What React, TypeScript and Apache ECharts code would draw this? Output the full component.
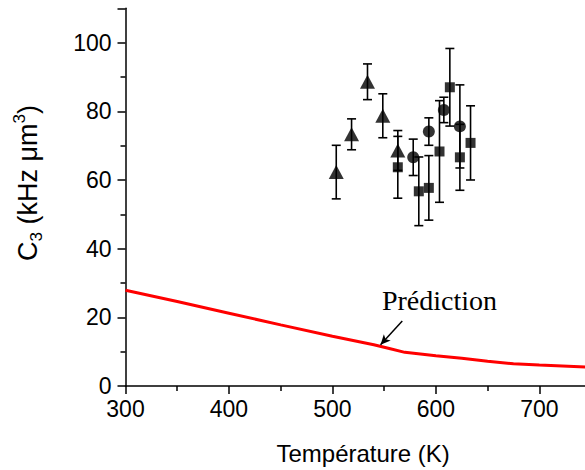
import React, { useEffect, useRef } from 'react';
import * as echarts from 'echarts';

// Triangles
const triT = [503.7, 518.5, 533.9, 548.7, 563.2];
const triC3 = [62.3, 73.3, 88.6, 78.7, 68.6];
const triErr = [7.8, 4.5, 5.2, 6.4, 5.8];

// Circles
const cirT = [578.1, 593.2, 607.7, 623.2];
const cirC3 = [66.6, 74.1, 80.4, 75.6];
const cirErr = [5.3, 4.0, 3.7, 12.1];

// Squares
const sqT = [563.2, 583.5, 593.2, 603.5, 613.5, 623.2, 633.5];
const sqC3 = [63.7, 56.7, 57.7, 68.3, 87.0, 66.6, 70.8];
const sqErr = [9.0, 10.0, 9.4, 14.8, 11.3, 9.6, 10.8];

// Prediction curve
const predT = [300, 350, 400, 450, 500, 540, 555, 570, 585, 600, 625, 650, 675, 700, 750];
const predC3 = [27.9, 24.6, 21.2, 17.8, 14.5, 12.0, 10.9, 9.8, 9.3, 8.8, 8.05, 7.2, 6.45, 6.1, 5.45];

// Annotation
const labelText = 'Prédiction';
const labelAt = [603.5, 24.8];
const arrowFrom = [567.5, 18.9];
const arrowTo = [546.5, 12.0];

const xTicks = { min: 300, max: 800, interval: 100 };
const yTicks = { min: 0, max: 110, interval: 20 };

const FONT = 'Liberation Sans, Arial, sans-serif';

export default function App() {
  const ref = useRef<HTMLDivElement>(null);
  useEffect(() => {
    document.body.style.overflow = 'hidden';
    const chart = echarts.init(ref.current!, null, { renderer: 'svg' });
    const errData = [
      ...triT.map((t, i) => [t, triC3[i], triErr[i]]),
      ...cirT.map((t, i) => [t, cirC3[i], cirErr[i]]),
      ...sqT.map((t, i) => [t, sqC3[i], sqErr[i]]),
    ];
    const axisCommon = {
      type: 'value',
      axisLine: { show: true, onZero: false, lineStyle: { color: '#000', width: 1.5 } },
      axisTick: { show: true, inside: false, length: 8, lineStyle: { color: '#000', width: 1.5 } },
      minorTick: { show: true, splitNumber: 2, length: 5, lineStyle: { color: '#000', width: 1.5 } },
      splitLine: { show: false },
      minorSplitLine: { show: false },
    };
    chart.setOption({
      animation: false,
      backgroundColor: '#fff',
      grid: { left: 125.5, top: 8.3, width: 517.3, height: 378.4, containLabel: false },
      xAxis: {
        ...axisCommon,
        ...xTicks,
        axisLabel: { color: '#000', fontSize: 23, fontFamily: FONT, margin: 11, showMaxLabel: false },
        name: 'Température (K)',
        nameLocation: 'middle',
        nameGap: 55,
        nameTextStyle: { color: '#000', fontSize: 24, fontFamily: FONT, padding: [0, 42, 0, 0] },
      },
      yAxis: {
        ...axisCommon,
        ...yTicks,
        axisLabel: { color: '#000', fontSize: 23, fontFamily: FONT, margin: 14, showMaxLabel: false },
      },
      graphic: [
        {
          type: 'text',
          x: 28,
          y: 183,
          rotation: Math.PI / 2,
          style: {
            text: '{m|C}{sub|3}{m| (kHz μm}{sup|3}{m|)}',
            align: 'center',
            verticalAlign: 'middle',
            fill: '#000',
            rich: {
              m: { fontSize: 27, fontFamily: FONT, lineHeight: 34, fill: '#000' },
              sub: { fontSize: 17, fontFamily: FONT, lineHeight: 17, verticalAlign: 'bottom', fill: '#000' },
              sup: { fontSize: 17, fontFamily: FONT, lineHeight: 17, verticalAlign: 'top', fill: '#000' },
            },
          },
        },
      ],
      series: [
        {
          type: 'line',
          data: predT.map((t, i) => [t, predC3[i]]),
          showSymbol: false,
          symbol: 'none',
          lineStyle: { color: '#ff0000', width: 3 },
          z: 2,
          markLine: {
            silent: true,
            symbol: ['none', 'arrow'],
            symbolSize: [7, 10],
            label: { show: false },
            lineStyle: { color: '#000', width: 1.5, type: 'solid' },
            data: [[{ coord: arrowFrom }, { coord: arrowTo }]],
          },
          markPoint: {
            silent: true,
            symbolSize: 0,
            data: [{ coord: labelAt, value: labelText }],
            label: {
              show: true,
              position: 'inside',
              formatter: labelText,
              color: '#000',
              fontSize: 28,
              fontFamily: 'Liberation Serif, Times New Roman, serif',
            },
          },
        },
        {
          type: 'custom',
          data: errData,
          z: 3,
          renderItem: (params: any, api: any) => {
            const x = api.value(0);
            const y = api.value(1);
            const e = api.value(2);
            const top = api.coord([x, y + e]);
            const bot = api.coord([x, y - e]);
            const hw = 4.5;
            const style = { stroke: '#000', lineWidth: 1.6 };
            return {
              type: 'group',
              children: [
                { type: 'line', shape: { x1: top[0], y1: top[1], x2: bot[0], y2: bot[1] }, style },
                { type: 'line', shape: { x1: top[0] - hw, y1: top[1], x2: top[0] + hw, y2: top[1] }, style },
                { type: 'line', shape: { x1: bot[0] - hw, y1: bot[1], x2: bot[0] + hw, y2: bot[1] }, style },
              ],
            };
          },
        },
        {
          type: 'scatter',
          data: triT.map((t, i) => [t, triC3[i]]),
          symbol: 'triangle',
          symbolSize: [15, 14],
          itemStyle: { color: '#000' },
          z: 4,
        },
        {
          type: 'scatter',
          data: cirT.map((t, i) => [t, cirC3[i]]),
          symbol: 'circle',
          symbolSize: 12,
          itemStyle: { color: '#000' },
          z: 4,
        },
        {
          type: 'scatter',
          data: sqT.map((t, i) => [t, sqC3[i]]),
          symbol: 'rect',
          symbolSize: 10,
          itemStyle: { color: '#000' },
          z: 4,
        },
      ],
    });
    return () => chart.dispose();
  }, []);
  return <div ref={ref} style={{ position: 'fixed', left: 0, top: 0, width: 650, height: 470 }} />;
}
